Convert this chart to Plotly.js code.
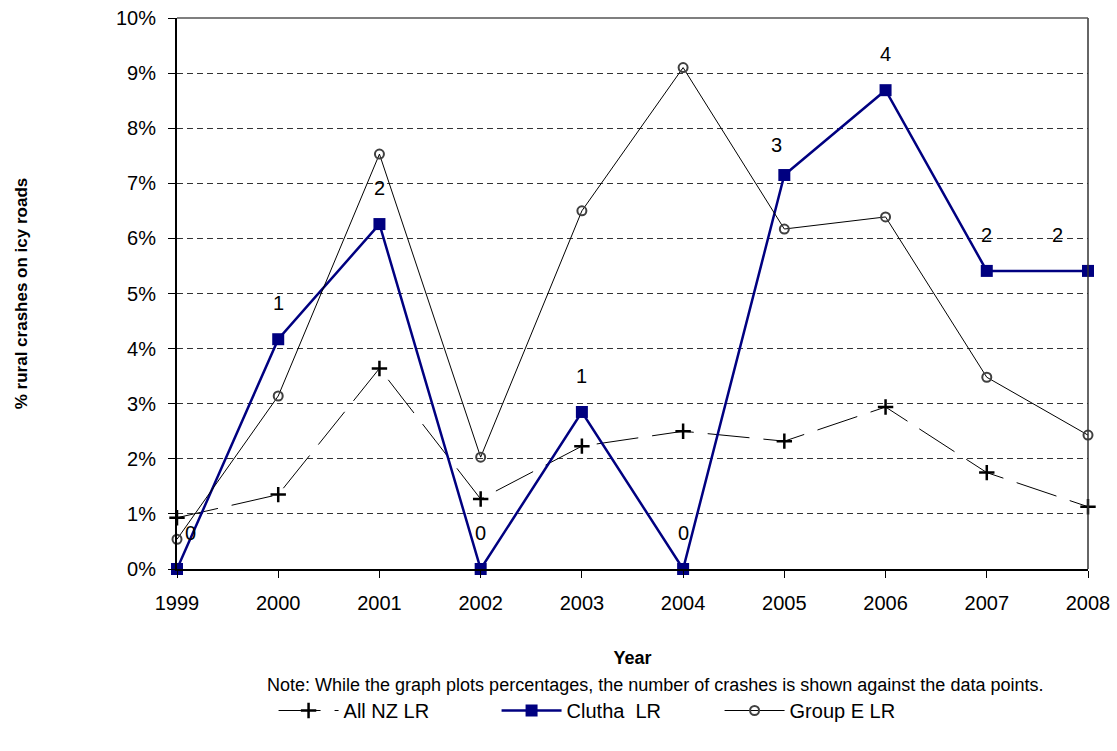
<!DOCTYPE html>
<html>
<head>
<meta charset="utf-8">
<script src="https://cdn.plot.ly/plotly-3.0.1.min.js"></script>
<style>html,body{margin:0;padding:0;background:#fff;}#chart{width:1117px;height:751px;}</style>
</head>
<body>
<div id="chart"></div>
<script>
const years = [1999, 2000, 2001, 2002, 2003, 2004, 2005, 2006, 2007, 2008];
const allNZ = [0.93, 1.35, 3.64, 1.27, 2.23, 2.50, 2.32, 2.94, 1.75, 1.13];
const clutha = [0.0, 4.17, 6.26, 0.0, 2.85, 0.0, 7.15, 8.69, 5.41, 5.41];
const groupE = [0.54, 3.14, 7.53, 2.03, 6.50, 9.10, 6.17, 6.39, 3.48, 2.43];
const cluthaCounts = [0, 1, 2, 0, 1, 0, 3, 4, 2, 2];
const yTickVals = [0,1,2,3,4,5,6,7,8,9,10];
const yTickText = ['0%','1%','2%','3%','4%','5%','6%','7%','8%','9%','10%'];

// label offsets (styling only)
const labelXShift = [13, 0, 0, 0, 0, 0, -8, 0, 0, -31];
const labelYShift = [36, 36, 36, 36, 36, 36, 30, 36, 36, 36];

const FONT = 'Liberation Sans, Arial, sans-serif';

const traces = [
  {
    x: years, y: allNZ, name: 'All NZ LR', type: 'scatter', mode: 'lines+markers',
    line: {color: '#000', width: 1, dash: '42px,14px'},
    marker: {symbol: 'cross-thin-open', size: 11, color: '#000', line: {color: '#000', width: 2.5}},
    cliponaxis: false
  },
  {
    x: years, y: clutha, name: 'Clutha  LR', type: 'scatter', mode: 'lines+markers',
    line: {color: '#000080', width: 2.5},
    marker: {symbol: 'square', size: 12, color: '#000080'},
    cliponaxis: false
  },
  {
    x: years, y: groupE, name: 'Group E LR', type: 'scatter', mode: 'lines+markers',
    line: {color: '#000', width: 1},
    marker: {symbol: 'circle-open', size: 9, color: '#404040', line: {color: '#404040', width: 2}},
    cliponaxis: false
  }
];

const annotations = years.map((yr, i) => ({
  x: yr, y: clutha[i], xref: 'x', yref: 'y',
  text: String(cluthaCounts[i]), showarrow: false,
  xshift: labelXShift[i], yshift: labelYShift[i],
  font: {family: FONT, size: 20, color: '#000'}
}));
annotations.push({
  xref: 'paper', yref: 'paper', x: (655 - 177) / 911, y: (569 - 685) / 551,
  xanchor: 'center', yanchor: 'middle', showarrow: false,
  text: 'Note: While the graph plots percentages, the number of crashes is shown against the data points.',
  font: {family: FONT, size: 18, color: '#000'}
});

const layout = {
  width: 1117, height: 751,
  margin: {l: 177, r: 29, t: 18, b: 182},
  paper_bgcolor: '#fff', plot_bgcolor: '#fff',
  font: {family: FONT, color: '#000'},
  showlegend: true,
  legend: {
    orientation: 'h', x: 0.106, y: (569 - 691) / 551, xanchor: 'left', yanchor: 'top',
    font: {family: FONT, size: 20, color: '#000'}, itemwidth: 60,
    entrywidth: 148, entrywidthmode: 'pixels',
    bgcolor: 'rgba(0,0,0,0)'
  },
  xaxis: {
    range: [1999, 2008], tickvals: years, ticktext: years.map(String),
    showgrid: false, zeroline: false, showline: true, linecolor: '#000', linewidth: 2,
    ticks: 'outside', ticklen: 7, tickcolor: '#000', tickwidth: 1, ticklabelstandoff: 8,
    tickfont: {family: FONT, size: 20, color: '#000'},
    title: {text: '<b>Year</b>', font: {family: FONT, size: 18, color: '#000'}, standoff: 38}
  },
  yaxis: {
    range: [0, 10], tickvals: yTickVals, ticktext: yTickText,
    showgrid: true, gridcolor: '#333', griddash: '6px,4px', gridwidth: 1,
    zeroline: false, showline: true, linecolor: '#000', linewidth: 2,
    ticks: 'outside', ticklen: 7, tickcolor: '#000', tickwidth: 1, ticklabelstandoff: 8,
    tickfont: {family: FONT, size: 20, color: '#000'},
    title: {text: '<b>% rural crashes on icy roads</b>', font: {family: FONT, size: 17, color: '#000'}, standoff: 84}
  },
  shapes: [
    {type: 'line', xref: 'paper', yref: 'paper', x0: 1, x1: 1, y0: 0, y1: 1, line: {color: '#333', width: 1.5}},
    {type: 'line', xref: 'paper', yref: 'paper', x0: 0, x1: 1, y0: 1, y1: 1, line: {color: '#555', width: 1.5}}
  ],
  annotations: annotations
};

Plotly.newPlot('chart', traces, layout, {displayModeBar: false, staticPlot: true});
</script>
</body>
</html>
